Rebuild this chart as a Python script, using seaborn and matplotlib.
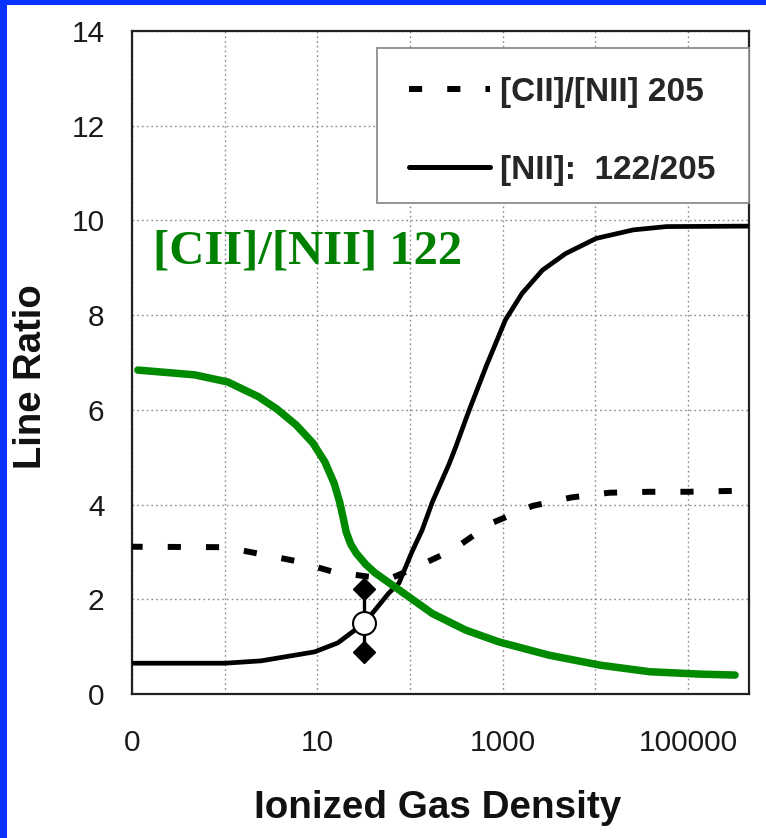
import numpy as np
import pandas as pd
import matplotlib
matplotlib.use("Agg")
import matplotlib.pyplot as plt
from matplotlib.patches import Rectangle
from matplotlib.lines import Line2D
import seaborn as sns

# ---------------- data (log10 of ionized gas density, line ratio) ----------------
nii_logn = [-1.03, 0.0, 0.39, 0.97, 1.22, 1.50, 1.62, 1.77, 1.88, 2.02, 2.13, 2.24, 2.42,
            2.49, 2.63, 2.82, 3.03, 3.21, 3.43, 3.68, 4.01, 4.41, 4.77, 5.66]
nii_ratio = [0.65, 0.65, 0.70, 0.89, 1.08, 1.49, 1.77, 2.13, 2.34, 3.00, 3.46, 4.05, 4.85,
             5.20, 5.95, 6.91, 7.90, 8.46, 8.95, 9.30, 9.62, 9.80, 9.87, 9.88]

cii205_logn = [-1.03, 0.0, 0.32, 0.76, 1.17, 1.58, 1.80, 2.00, 2.46, 2.87, 3.32, 3.74,
               4.15, 4.59, 5.00, 5.52]
cii205_ratio = [3.11, 3.10, 2.98, 2.81, 2.58, 2.47, 2.45, 2.62, 3.04, 3.60, 3.97, 4.15,
                4.25, 4.27, 4.27, 4.29]

cii122_logn = [-0.94, -0.33, 0.03, 0.36, 0.56, 0.77, 0.95, 1.08, 1.18, 1.24, 1.28, 1.31,
               1.36, 1.42, 1.52, 1.62, 1.75, 1.88, 2.24, 2.60, 2.96, 3.50, 4.05, 4.59,
               5.13, 5.51]
cii122_ratio = [6.84, 6.74, 6.59, 6.28, 6.02, 5.68, 5.30, 4.90, 4.45, 4.05, 3.70, 3.42,
                3.16, 2.97, 2.74, 2.56, 2.38, 2.20, 1.70, 1.35, 1.10, 0.82, 0.61, 0.47,
                0.42, 0.40]

obs_logn = 1.50
obs_ratio = 1.50
obs_low = 0.88
obs_high = 2.22

x_tick_values = [0.1, 1, 10, 100, 1000, 10000, 100000]
x_tick_labels = ["0", "", "10", "", "1000", "", "100000"]
y_tick_values = [0, 2, 4, 6, 8, 10, 12, 14]

legend_labels = ["[CII]/[NII] 205", "[NII]:  122/205"]
green_label = "[CII]/[NII] 122"
x_title = "Ionized Gas Density"
y_title = "Line Ratio"

# ---------------- figure ----------------
sns.set_style("white")
plt.rcParams["font.family"] = ["Liberation Sans", "DejaVu Sans"]

W, H = 766, 838
fig = plt.figure(figsize=(W / 100, H / 100), dpi=100)
fig.patch.set_facecolor("white")
ax = fig.add_axes([132.3 / W, 1 - 694 / H, (749.3 - 132.3) / W, (694 - 31) / H])

# blue frame of the slide
fig.patches.append(Rectangle((0, 0), 7 / W, 1, transform=fig.transFigure,
                             facecolor="#0a32ff", edgecolor="none", zorder=0))
fig.patches.append(Rectangle((0, 1 - 5 / H), 1, 5 / H, transform=fig.transFigure,
                             facecolor="#0a32ff", edgecolor="none", zorder=0))

ax.set_xscale("log")

df_nii = pd.DataFrame({"n": np.power(10.0, nii_logn), "r": nii_ratio})
df_205 = pd.DataFrame({"n": np.power(10.0, cii205_logn), "r": cii205_ratio})
df_122 = pd.DataFrame({"n": np.power(10.0, cii122_logn), "r": cii122_ratio})

sns.lineplot(data=df_205, x="n", y="r", ax=ax, color="black", lw=4.3,
             dashes=False, sort=False, zorder=3)
ax.lines[-1].set_dashes((2.2, 4.2))
ax.lines[-1].set_dash_capstyle("butt")
sns.lineplot(data=df_nii, x="n", y="r", ax=ax, color="black", lw=3.4, sort=False, zorder=3)
ax.lines[-1].set_solid_joinstyle("round")
sns.lineplot(data=df_122, x="n", y="r", ax=ax, color="#008a00", lw=5.4, sort=False,
             zorder=4)
ax.lines[-1].set_solid_joinstyle("round")

# observed point with error bar
obs_n = 10 ** obs_logn
ax.plot([obs_n, obs_n], [obs_low, obs_high], color="black", lw=2.4, zorder=5)
ax.plot([obs_n, obs_n], [obs_low, obs_high], ls="none", marker="D", ms=11.5,
        color="black", zorder=5)
ax.plot([obs_n], [obs_ratio], ls="none", marker="o", ms=16.5, mfc="white",
        mec="black", mew=1.5, zorder=6)

ax.set_xlim(0.1, 10 ** 5.664)
ax.set_ylim(0, 14)
ax.set_xticks(x_tick_values)
ax.set_xticklabels(x_tick_labels)
ax.xaxis.set_minor_locator(matplotlib.ticker.NullLocator())
ax.set_yticks(y_tick_values)
ax.set_xlabel("")
ax.set_ylabel("")

ax.grid(True, which="major", color="#8a8a8a", lw=1.0, ls=(0, (1.2, 2.2)))
for s in ax.spines.values():
    s.set_color("#222222")
    s.set_linewidth(1.6)
ax.tick_params(axis="both", which="major", direction="out", length=8, width=1.0,
               color="#555555", labelsize=21.5, labelcolor="#1a1a1a")
ax.tick_params(axis="x", pad=17)
ax.tick_params(axis="y", pad=12)

# legend box and legend
ax.add_patch(Rectangle((377 / W, 1 - 203 / H), (749 - 377) / W, (203 - 48) / H,
                       transform=fig.transFigure, facecolor="white",
                       edgecolor="#8c8c8c", lw=1.3, zorder=7, clip_on=False))
handles = [Line2D([], [], color="black", lw=4.3, dashes=(2.2, 4.2), dash_capstyle="butt"),
           Line2D([], [], color="black", lw=3.6)]
leg = ax.legend(handles, legend_labels, loc="upper left",
                bbox_to_anchor=(392 / W, 1 - 60 / H), bbox_transform=fig.transFigure,
                frameon=False, borderpad=0, handlelength=2.45, handletextpad=0.28,
                labelspacing=1.42, prop={"size": 24, "weight": "bold"})
leg.set_zorder(8)

fig.text(152.7 / W, 1 - 263 / H, green_label, fontfamily=["Liberation Serif", "DejaVu Serif"],
         fontweight="bold", fontsize=35, color="#008000", va="baseline", ha="left")

fig.text(438 / W, 1 - 818 / H, x_title, fontsize=27.8, fontweight="bold",
         ha="center", va="baseline", color="#111111")
fig.text(31 / W, 1 - 377 / H, y_title, fontsize=27.5, fontweight="bold", rotation=90,
         ha="center", va="center", color="#111111")

fig.savefig("out.png", dpi=100, facecolor="white")
